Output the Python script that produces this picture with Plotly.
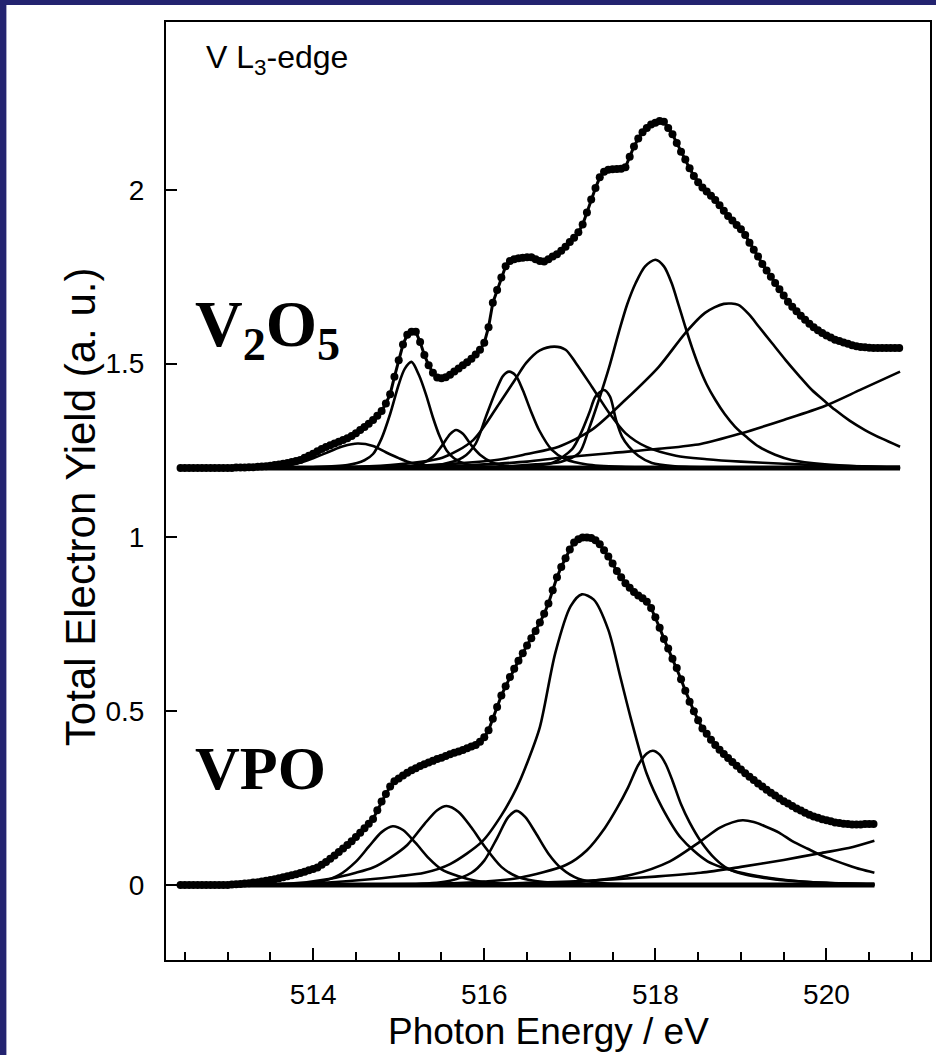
import numpy as np
import plotly.graph_objects as go

# ---------------- measured spectra (0.05 eV grid) ----------------
v2o5_y = [
    1.200, 1.200, 1.200, 1.200, 1.200, 1.200, 1.200, 1.200, 1.200, 1.200,
    1.200, 1.200, 1.200, 1.201, 1.201, 1.201, 1.202, 1.202, 1.203, 1.204,
    1.205, 1.206, 1.208, 1.210, 1.212, 1.214, 1.217, 1.220, 1.223, 1.229,
    1.235, 1.241, 1.248, 1.254, 1.260, 1.265, 1.270, 1.275, 1.280, 1.285,
    1.292, 1.300, 1.309, 1.318, 1.327, 1.338, 1.350, 1.364, 1.385, 1.412,
    1.462, 1.510, 1.555, 1.583, 1.592, 1.592, 1.562, 1.525, 1.495, 1.474,
    1.460, 1.458, 1.461, 1.468, 1.477, 1.486, 1.495, 1.504, 1.514, 1.526,
    1.540, 1.560, 1.605, 1.675, 1.712, 1.748, 1.780, 1.795, 1.800, 1.803,
    1.805, 1.806, 1.806, 1.800, 1.795, 1.794, 1.800, 1.808, 1.815, 1.825,
    1.836, 1.850, 1.862, 1.878, 1.900, 1.935, 1.972, 2.005, 2.036, 2.052,
    2.058, 2.059, 2.060, 2.061, 2.065, 2.095, 2.125, 2.148, 2.166, 2.178,
    2.188, 2.193, 2.198, 2.196, 2.178, 2.160, 2.135, 2.110, 2.087, 2.062,
    2.040, 2.022, 2.007, 1.995, 1.983, 1.971, 1.956, 1.940, 1.925, 1.912,
    1.899, 1.887, 1.870, 1.848, 1.828, 1.808, 1.787, 1.768, 1.750, 1.732,
    1.714, 1.696, 1.678, 1.664, 1.651, 1.638, 1.626, 1.615, 1.605, 1.596,
    1.588, 1.581, 1.575, 1.569, 1.565, 1.561, 1.557, 1.553, 1.550, 1.548,
    1.547, 1.546, 1.545, 1.545, 1.545, 1.545, 1.545, 1.545, 1.545,
]
v2o5_x = np.round(np.linspace(512.45, 520.85, len(v2o5_y)), 2)

vpo_y = [
    0.000, 0.000, 0.000, 0.000, 0.000, 0.000, 0.000, 0.000, 0.000, 0.000,
    0.000, 0.000, 0.001, 0.002, 0.003, 0.004, 0.005, 0.007, 0.008, 0.010,
    0.012, 0.014, 0.016, 0.019, 0.022, 0.025, 0.028, 0.031, 0.034, 0.038,
    0.042, 0.046, 0.050, 0.058, 0.066, 0.075, 0.085, 0.095, 0.105, 0.115,
    0.126, 0.138, 0.150, 0.163, 0.176, 0.190, 0.215, 0.240, 0.262, 0.283,
    0.298, 0.306, 0.315, 0.323, 0.330, 0.336, 0.342, 0.347, 0.352, 0.357,
    0.362, 0.366, 0.371, 0.376, 0.380, 0.384, 0.388, 0.393, 0.398, 0.403,
    0.412, 0.425, 0.445, 0.478, 0.512, 0.545, 0.572, 0.598, 0.622, 0.645,
    0.667, 0.689, 0.710, 0.731, 0.755, 0.780, 0.810, 0.848, 0.885, 0.915,
    0.940, 0.965, 0.985, 0.995, 1.000, 1.000, 0.998, 0.992, 0.980, 0.963,
    0.945, 0.925, 0.903, 0.885, 0.868, 0.855, 0.843, 0.833, 0.825, 0.815,
    0.797, 0.770, 0.740, 0.708, 0.680, 0.651, 0.624, 0.592, 0.559, 0.527,
    0.500, 0.474, 0.450, 0.435, 0.418, 0.403, 0.389, 0.377, 0.365, 0.354,
    0.343, 0.332, 0.321, 0.311, 0.302, 0.292, 0.283, 0.274, 0.265, 0.257,
    0.249, 0.241, 0.234, 0.227, 0.220, 0.214, 0.208, 0.202, 0.197, 0.193,
    0.189, 0.186, 0.183, 0.180, 0.178, 0.176, 0.175, 0.174, 0.174, 0.174,
    0.175, 0.175, 0.175,
]
vpo_x = np.round(np.linspace(512.45, 520.55, len(vpo_y)), 2)

# ---------------- fitted components: V2O5 (offset baseline 1.2) ----------------
v2o5_base_x = [512.45, 520.86]
v2o5_base_y = [1.2, 1.2]

v2o5_c1_x = [512.45, 513.5, 513.8, 514.0, 514.2, 514.35, 514.52, 514.7, 514.85, 515.0, 515.15, 515.35, 515.7, 516.2, 520.86]
v2o5_c1_y = [1.2, 1.203, 1.212, 1.228, 1.248, 1.262, 1.270, 1.263, 1.245, 1.228, 1.214, 1.206, 1.202, 1.2, 1.2]

v2o5_c2_x = [512.45, 514.0, 514.4, 514.6, 514.7, 514.8, 514.9, 515.0, 515.07, 515.15, 515.24, 515.32, 515.4, 515.48, 515.56, 515.65, 515.8, 516.0, 516.5, 520.86]
v2o5_c2_y = [1.2, 1.202, 1.208, 1.222, 1.240, 1.285, 1.355, 1.440, 1.485, 1.505, 1.465, 1.410, 1.345, 1.290, 1.250, 1.227, 1.210, 1.204, 1.201, 1.2]

v2o5_c3_x = [512.45, 515.0, 515.25, 515.4, 515.5, 515.6, 515.67, 515.75, 515.85, 515.95, 516.1, 516.3, 516.7, 520.86]
v2o5_c3_y = [1.2, 1.201, 1.210, 1.232, 1.262, 1.297, 1.309, 1.298, 1.265, 1.238, 1.215, 1.205, 1.201, 1.2]

v2o5_c4_x = [512.45, 515.0, 515.5, 515.75, 515.9, 516.02, 516.14, 516.22, 516.29, 516.37, 516.45, 516.55, 516.64, 516.79, 516.95, 517.2, 517.6, 518.2, 520.86]
v2o5_c4_y = [1.2, 1.202, 1.210, 1.230, 1.270, 1.348, 1.424, 1.465, 1.477, 1.465, 1.424, 1.360, 1.309, 1.252, 1.225, 1.210, 1.203, 1.2, 1.2]

v2o5_c5_x = [512.45, 514.5, 515.0, 515.51, 515.87, 516.18, 516.35, 516.49, 516.65, 516.82, 516.95, 517.07, 517.26, 517.46, 517.65, 517.89, 518.24, 518.6, 519.0, 519.5, 520.0, 520.86]
v2o5_c5_y = [1.2, 1.203, 1.210, 1.229, 1.280, 1.387, 1.450, 1.502, 1.538, 1.549, 1.540, 1.502, 1.433, 1.358, 1.300, 1.261, 1.235, 1.225, 1.218, 1.212, 1.207, 1.203]

v2o5_c6_x = [512.45, 516.0, 516.5, 516.8, 517.03, 517.13, 517.23, 517.3, 517.4, 517.47, 517.54, 517.61, 517.69, 517.8, 517.96, 518.2, 518.6, 520.86]
v2o5_c6_y = [1.2, 1.201, 1.205, 1.215, 1.255, 1.300, 1.360, 1.405, 1.424, 1.405, 1.338, 1.290, 1.261, 1.235, 1.214, 1.205, 1.201, 1.2]

v2o5_c7_x = [512.45, 515.5, 516.2, 516.6, 516.9, 517.11, 517.22, 517.34, 517.46, 517.57, 517.67, 517.77, 517.88, 518.0, 518.1, 518.19, 518.27, 518.35, 518.43, 518.51, 518.6, 518.7, 518.81, 518.93, 519.07, 519.21, 519.4, 519.59, 519.98, 520.4, 520.86]
v2o5_c7_y = [1.2, 1.201, 1.204, 1.210, 1.218, 1.243, 1.310, 1.396, 1.490, 1.588, 1.670, 1.732, 1.780, 1.799, 1.780, 1.732, 1.670, 1.606, 1.545, 1.491, 1.440, 1.396, 1.355, 1.319, 1.288, 1.261, 1.238, 1.223, 1.210, 1.204, 1.201]

v2o5_c8_x = [512.45, 514.5, 515.2, 515.7, 516.2, 516.5, 516.87, 517.26, 517.65, 518.04, 518.35, 518.58, 518.8, 518.97, 519.1, 519.21, 519.36, 519.52, 519.68, 519.83, 519.97, 520.1, 520.27, 520.45, 520.65, 520.86]
v2o5_c8_y = [1.2, 1.202, 1.206, 1.213, 1.225, 1.240, 1.261, 1.310, 1.396, 1.491, 1.588, 1.646, 1.672, 1.669, 1.640, 1.606, 1.560, 1.511, 1.465, 1.424, 1.394, 1.367, 1.336, 1.309, 1.284, 1.261]

v2o5_step_x = [512.45, 515.0, 515.5, 516.0, 516.5, 516.88, 517.5, 518.04, 518.53, 519.01, 519.5, 519.98, 520.4, 520.86]
v2o5_step_y = [1.2, 1.201, 1.204, 1.210, 1.218, 1.229, 1.243, 1.255, 1.269, 1.300, 1.338, 1.378, 1.425, 1.477]

# ---------------- fitted components: VPO ----------------
vpo_base_x = [512.45, 520.56]
vpo_base_y = [0.0, 0.0]

vpo_c1_x = [512.45, 513.8, 514.1, 514.3, 514.5, 514.65, 514.8, 514.93, 515.05, 515.2, 515.35, 515.5, 515.7, 515.9, 516.2, 516.6, 520.56]
vpo_c1_y = [0.0, 0.002, 0.010, 0.028, 0.067, 0.110, 0.152, 0.169, 0.158, 0.120, 0.077, 0.045, 0.025, 0.012, 0.004, 0.001, 0.0]

vpo_c2_x = [512.45, 513.7, 514.2, 514.5, 514.7, 514.9, 515.1, 515.3, 515.45, 515.56, 515.7, 515.85, 516.0, 516.2, 516.4, 516.7, 517.2, 520.56]
vpo_c2_y = [0.0, 0.003, 0.018, 0.035, 0.050, 0.078, 0.115, 0.175, 0.215, 0.227, 0.210, 0.165, 0.112, 0.052, 0.022, 0.008, 0.002, 0.0]

vpo_c3_x = [512.45, 515.2, 515.6, 515.85, 516.0, 516.15, 516.28, 516.38, 516.48, 516.6, 516.75, 516.9, 517.1, 517.4, 518.0, 520.56]
vpo_c3_y = [0.0, 0.002, 0.012, 0.035, 0.070, 0.135, 0.195, 0.213, 0.195, 0.150, 0.090, 0.048, 0.018, 0.005, 0.001, 0.0]

vpo_c4_x = [512.45, 514.0, 514.6, 515.0, 515.3, 515.6, 515.98, 516.2, 516.38, 516.5, 516.65, 516.83, 517.01, 517.14, 517.28, 517.45, 517.59, 517.72, 517.9, 518.08, 518.3, 518.61, 519.02, 519.5, 520.0, 520.56]
vpo_c4_y = [0.0, 0.005, 0.015, 0.025, 0.035, 0.060, 0.126, 0.200, 0.280, 0.350, 0.454, 0.667, 0.802, 0.836, 0.821, 0.734, 0.599, 0.473, 0.319, 0.222, 0.135, 0.068, 0.034, 0.015, 0.006, 0.003]

vpo_c5_x = [512.45, 515.5, 516.0, 516.4, 516.96, 517.2, 517.41, 517.55, 517.68, 517.8, 517.9, 517.97, 518.05, 518.12, 518.2, 518.3, 518.4, 518.53, 518.7, 518.84, 519.06, 519.4, 519.7, 520.1, 520.56]
vpo_c5_y = [0.0, 0.004, 0.010, 0.020, 0.058, 0.100, 0.164, 0.220, 0.280, 0.345, 0.378, 0.386, 0.375, 0.348, 0.300, 0.232, 0.180, 0.126, 0.075, 0.048, 0.029, 0.016, 0.010, 0.005, 0.002]

vpo_c6_x = [512.45, 516.5, 517.26, 517.72, 518.17, 518.53, 518.75, 518.9, 519.02, 519.15, 519.28, 519.45, 519.6, 519.78, 519.95, 520.1, 520.26, 520.4, 520.56]
vpo_c6_y = [0.0, 0.003, 0.012, 0.029, 0.068, 0.126, 0.164, 0.180, 0.186, 0.181, 0.169, 0.150, 0.126, 0.104, 0.084, 0.070, 0.056, 0.045, 0.035]

vpo_step_x = [512.45, 516.0, 516.5, 517.0, 517.5, 518.0, 518.53, 519.0, 519.5, 519.94, 520.26, 520.56]
vpo_step_y = [0.0, 0.002, 0.006, 0.010, 0.016, 0.024, 0.035, 0.052, 0.072, 0.092, 0.106, 0.127]

# ---------------- axis settings ----------------
x_range = [512.28, 521.21]
y_range = [-0.216, 2.483]
x_tickvals = [514, 516, 518, 520]
x_ticktext = ["514", "516", "518", "520"]
y_tickvals = [0, 0.5, 1, 1.5, 2]
y_ticktext = ["0", "0.5", "1", "1.5", "2"]

SANS = "Liberation Sans, Arial, Helvetica, sans-serif"
SERIF = "Liberation Serif, Times New Roman, serif"

fig = go.Figure()

components = [
    (v2o5_c1_x, v2o5_c1_y), (v2o5_c2_x, v2o5_c2_y), (v2o5_c3_x, v2o5_c3_y),
    (v2o5_c4_x, v2o5_c4_y), (v2o5_c5_x, v2o5_c5_y), (v2o5_c6_x, v2o5_c6_y),
    (v2o5_c7_x, v2o5_c7_y), (v2o5_c8_x, v2o5_c8_y), (v2o5_step_x, v2o5_step_y),
    (vpo_c1_x, vpo_c1_y), (vpo_c2_x, vpo_c2_y), (vpo_c3_x, vpo_c3_y),
    (vpo_c4_x, vpo_c4_y), (vpo_c5_x, vpo_c5_y), (vpo_c6_x, vpo_c6_y),
    (vpo_step_x, vpo_step_y),
]
for cx, cy in components:
    fig.add_trace(go.Scatter(x=cx, y=cy, mode="lines",
                             line=dict(color="black", width=2.6, shape="spline", smoothing=0.8),
                             hoverinfo="skip", showlegend=False))

for bx, by in [(v2o5_base_x, v2o5_base_y), (vpo_base_x, vpo_base_y)]:
    fig.add_trace(go.Scatter(x=bx, y=by, mode="lines",
                             line=dict(color="black", width=5),
                             hoverinfo="skip", showlegend=False))

for dx, dy in [(v2o5_x, v2o5_y), (vpo_x, vpo_y)]:
    fig.add_trace(go.Scatter(x=dx, y=dy, mode="lines+markers",
                             line=dict(color="black", width=3),
                             marker=dict(color="black", size=8, symbol="circle"),
                             showlegend=False))

# white slide area over the navy frame
fig.add_shape(type="rect", xref="paper", yref="paper",
              x0=-0.2089, x1=1.01, y0=-0.11, y1=1.0181,
              fillcolor="white", line=dict(width=0), layer="below")

fig.add_annotation(xref="paper", yref="paper", x=0.0496, y=0.9595,
                   text="V L<sub>3</sub>-edge", showarrow=False,
                   xanchor="left", yanchor="middle",
                   font=dict(family=SANS, size=32, color="black"))
fig.add_annotation(xref="paper", yref="paper", x=0.035, y=0.673,
                   text="<b>V<sub>2</sub>O<sub>5</sub></b>", showarrow=False,
                   xanchor="left", yanchor="middle",
                   font=dict(family=SERIF, size=66, color="black"))
fig.add_annotation(xref="paper", yref="paper", x=0.035, y=0.205,
                   text="<b>VPO</b>", showarrow=False,
                   xanchor="left", yanchor="middle",
                   font=dict(family=SERIF, size=62, color="black"))
fig.add_annotation(xref="paper", yref="paper", x=-0.111, y=0.483,
                   text="Total Electron Yield (a. u.)", showarrow=False,
                   textangle=-90, xanchor="center", yanchor="middle",
                   font=dict(family=SANS, size=42, color="black"))
fig.add_annotation(xref="paper", yref="paper", x=0.5, y=-0.0757,
                   text="Photon Energy / eV", showarrow=False,
                   xanchor="center", yanchor="middle",
                   font=dict(family=SANS, size=37, color="black"))

fig.update_layout(
    width=936, height=1055,
    margin=dict(l=166, r=4, t=22, b=95),
    paper_bgcolor="#232370",
    plot_bgcolor="white",
    showlegend=False,
    xaxis=dict(range=x_range, tickvals=x_tickvals, ticktext=x_ticktext,
               ticks="inside", ticklen=12, tickwidth=1.5, tickcolor="black",
               minor=dict(dtick=0.5, tick0=512.5, ticks="inside", ticklen=8, tickwidth=1.5, tickcolor="black"),
               showline=True, linecolor="black", linewidth=2, mirror=True,
               showgrid=False, zeroline=False,
               tickfont=dict(family=SANS, size=28, color="black"),
               ticklabelstandoff=8),
    yaxis=dict(range=y_range, tickvals=y_tickvals, ticktext=y_ticktext,
               ticks="inside", ticklen=11, tickwidth=1.5, tickcolor="black",
               showline=True, linecolor="black", linewidth=2, mirror=True,
               showgrid=False, zeroline=False,
               tickfont=dict(family=SANS, size=28, color="black"),
               ticklabelstandoff=14),
)

fig.write_html("out.html")
